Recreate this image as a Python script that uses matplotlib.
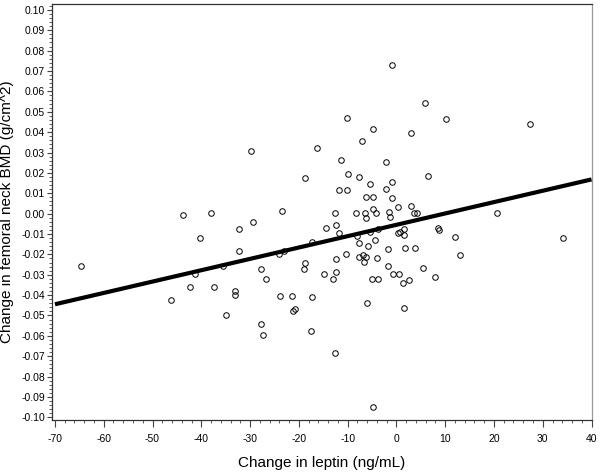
import matplotlib
matplotlib.use("Agg")
import matplotlib.pyplot as plt
from matplotlib import font_manager
from matplotlib.ticker import MultipleLocator, FormatStrFormatter

# change in leptin (ng/mL) vs change in femoral neck BMD (g/cm^2)
leptin = [-43.75, -38.07, -32.34, -40.18, -64.57, -32.34, -35.47, -41.35, -42.38, -37.32,
          -33.16, -33.16, -46.27, -34.86, -27.68, -27.36, -0.84, 5.78, -10.14, -4.88,
          3.05, -7.07, -29.88, -16.29, -11.43, -2.15, 6.39, -18.67, -9.86, -7.60,
          -5.35, -0.84, -2.15, -11.78, -10.14, -6.25, -4.88, -0.84, -23.46, -29.41,
          -12.52, -8.36, -6.37, -6.31, -4.82, -4.12, -1.54, -1.39, 0.39, 3.05,
          3.67, 4.28, -12.32, -14.45, -11.84, -17.32, -23.05, -24.14, -8.09, -7.75,
          -5.43, -4.47, -5.84, -3.71, 0.39, 0.72, 1.62, 1.62, -1.74, 1.74,
          3.87, 8.50, 8.71, -10.41, -12.40, -7.68, -6.86, -6.31, -6.58, -4.06,
          -18.81, -18.95, -27.77, -26.80, -14.77, -12.40, -13.01, -1.80, -0.64, 0.51,
          -5.02, -3.85, 2.64, 1.41, 5.43, 7.89, -23.79, -21.41, -17.23, -21.21,
          -20.72, -6.11, 1.62, -17.52, -12.52, -4.73, 10.08, 27.30, 20.53, 12.07,
          34.20, 13.01]
bmd = [-0.0007, 0.0004, -0.0077, -0.0120, -0.0257, -0.0184, -0.0257, -0.0298, -0.0362, -0.0359,
       -0.0378, -0.0401, -0.0424, -0.0496, -0.0540, -0.0596, 0.0728, 0.0544, 0.0471, 0.0417,
       0.0397, 0.0358, 0.0309, 0.0321, 0.0262, 0.0255, 0.0186, 0.0173, 0.0196, 0.0181,
       0.0147, 0.0155, 0.0122, 0.0116, 0.0116, 0.0080, 0.0080, 0.0077, 0.0011, -0.0043,
       0.0004, 0.0004, 0.0004, -0.0023, 0.0021, 0.0004, 0.0006, -0.0015, 0.0031, 0.0039,
       0.0004, 0.0004, -0.0057, -0.0069, -0.0095, -0.0138, -0.0185, -0.0198, -0.0110, -0.0146,
       -0.0089, -0.0128, -0.0158, -0.0077, -0.0097, -0.0092, -0.0077, -0.0105, -0.0174, -0.0169,
       -0.0169, -0.0069, -0.0079, -0.0197, -0.0224, -0.0212, -0.0205, -0.0212, -0.0239, -0.0216,
       -0.0241, -0.0270, -0.0273, -0.0323, -0.0297, -0.0288, -0.0323, -0.0257, -0.0295, -0.0297,
       -0.0320, -0.0323, -0.0327, -0.0342, -0.0266, -0.0313, -0.0405, -0.0405, -0.0408, -0.0477,
       -0.0470, -0.0439, -0.0465, -0.0578, -0.0684, -0.0951, 0.0466, 0.0440, 0.0004, -0.0115,
       -0.0118, -0.0203]

# regression line end points
fit_x = [-70, 40]
fit_y = [-0.0445, 0.0168]

names = {f.name for f in font_manager.fontManager.ttflist}
fam = "Liberation Sans Narrow" if "Liberation Sans Narrow" in names else "Liberation Sans"
plt.rcParams["font.family"] = [fam, "DejaVu Sans"]

fig = plt.figure(figsize=(6, 4.74), dpi=100)
ax = fig.add_axes([0.0867, 0.1139, 0.9, 0.8777])

ax.plot(fit_x, fit_y, color="black", linewidth=3, solid_capstyle="butt", zorder=3)
ax.plot(leptin, bmd, linestyle="none", marker="o", markersize=4, markerfacecolor="none",
        markeredgecolor="black", markeredgewidth=0.7, zorder=2)

ax.set_xlim(-70.6, 40.1)
ax.set_ylim(-0.1013, 0.1029)
ax.xaxis.set_major_locator(MultipleLocator(10))
ax.xaxis.set_minor_locator(MultipleLocator(2))
ax.yaxis.set_major_locator(MultipleLocator(0.01))
ax.yaxis.set_minor_locator(MultipleLocator(0.002))
ax.yaxis.set_major_formatter(FormatStrFormatter("%.2f"))
ax.xaxis.set_major_formatter(FormatStrFormatter("%d"))

ax.tick_params(which="major", direction="out", width=0.8, labelsize=7.5, color="#444444")
ax.tick_params(axis="x", which="major", length=5, pad=5)
ax.tick_params(axis="y", which="major", length=3.5, pad=1.5)
ax.tick_params(which="minor", direction="out", length=2.5, width=0.6, color="#444444")
for s in ax.spines.values():
    s.set_linewidth(0.9)
    s.set_color("#333333")
ax.spines["right"].set_color("#999999")

ax.set_xlabel("Change in leptin (ng/mL)", fontsize=11, labelpad=9)
ax.set_ylabel("Change in femoral neck BMD (g/cm^2)", fontsize=11, labelpad=5)

fig.savefig("out.png", dpi=100)
